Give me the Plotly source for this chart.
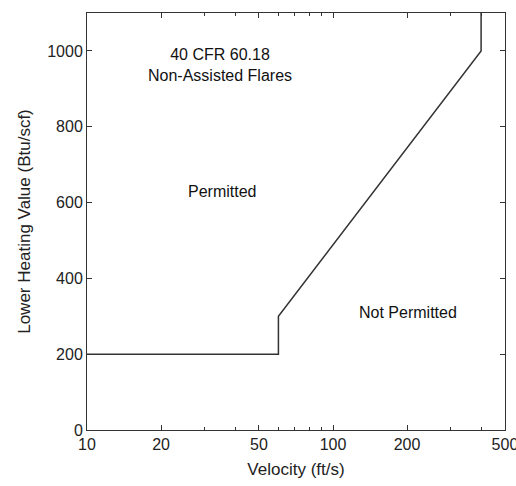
import plotly.graph_objects as go

velocity = [10, 60, 60, 400, 400]
lhv = [200, 200, 300, 1000, 1100]
x_tick_vals = [10, 20, 50, 100, 200, 500]
x_tick_text = ["10", "20", "50", "100", "200", "500"]
x_minor_vals = [30, 40, 60, 70, 80, 90, 300, 400]
y_tick_vals = [0, 200, 400, 600, 800, 1000]

fig = go.Figure()
fig.add_trace(go.Scatter(x=velocity, y=lhv, mode="lines",
                         line=dict(color="#333333", width=1.5), showlegend=False))

font = "Liberation Sans, Arial, sans-serif"
fig.add_annotation(x=1.54, y=962, xref="x", yref="y", text="40 CFR 60.18<br>Non-Assisted Flares",
                   showarrow=False, font=dict(family=font, size=16, color="#111111"), align="center")
fig.add_annotation(x=1.55, y=628, xref="x", yref="y", text="Permitted",
                   showarrow=False, font=dict(family=font, size=16, color="#111111"))
fig.add_annotation(x=2.305, y=311, xref="x", yref="y", text="Not Permitted",
                   showarrow=False, font=dict(family=font, size=16, color="#111111"))

axis_common = dict(showline=True, linecolor="#333333", linewidth=1, mirror="allticks",
                   ticks="inside", tickcolor="#333333", showgrid=False, zeroline=False,
                   automargin=False,
                   tickfont=dict(family=font, size=16, color="#222222"))

fig.update_xaxes(type="log", range=[1, 2.6992], tickvals=x_tick_vals, ticktext=x_tick_text,
                 ticklen=5, ticklabeloverflow="allow",
                 title=dict(text="Velocity (ft/s)", font=dict(family=font, size=17, color="#222222"), standoff=10),
                 minor=dict(tickvals=x_minor_vals, ticklen=3, ticks="inside", tickcolor="#333333"),
                 **axis_common)
fig.update_yaxes(range=[0, 1100], tickvals=y_tick_vals, ticklen=5,
                 title=dict(text="Lower Heating Value (Btu/scf)", font=dict(family=font, size=17, color="#222222"), standoff=12),
                 **axis_common)

fig.update_layout(width=516, height=486, margin=dict(l=87, r=11, t=13, b=56),
                  plot_bgcolor="white", paper_bgcolor="white")
fig.write_html("out.html")
